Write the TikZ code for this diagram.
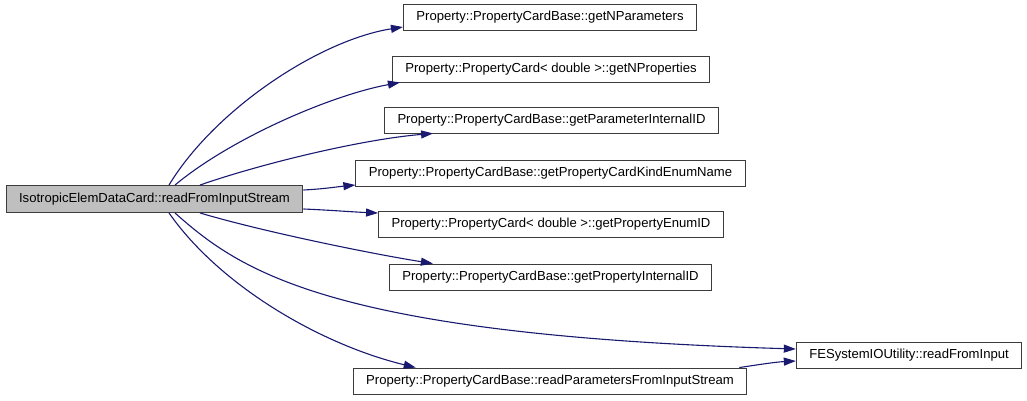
\documentclass[tikz,border=0pt]{standalone}
\usepackage{fontspec}
\setmainfont{Liberation Sans}
\usetikzlibrary{arrows.meta}
\definecolor{dgedgeblue}{RGB}{25,25,112}
\definecolor{dgmaingray}{RGB}{191,191,191}
\definecolor{dgborder}{RGB}{60,60,60}

\begin{document}
\begin{tikzpicture}[
        x=1pt, y=-1pt,
        callbox/.style={
            draw=dgborder,
            fill=white,
            line width=0.9pt,
            inner xsep=13pt,
            inner ysep=0pt,
            minimum height=26pt,
            font=\fontsize{13.1}{15}\selectfont
        },
        mainbox/.style={callbox, fill=dgmaingray, minimum height=27pt},
        calledge/.style={
            draw=dgedgeblue,
            line width=1.1pt,
            -{Triangle[length=12pt,width=8pt]}
        }
    ]
    \useasboundingbox (0,0) rectangle (1027,401);

    % caller
    \node[mainbox] (main) at (154.5,199) {IsotropicElemDataCard::readFromInputStream};

    % callees
    \node[callbox] (npar)  at (550,17)    {Property::PropertyCardBase::getNParameters};
    \node[callbox] (nprop) at (551,69)    {Property::PropertyCard< double >::getNProperties};
    \node[callbox] (parid) at (551.5,120) {Property::PropertyCardBase::getParameterInternalID};
    \node[callbox] (kind)  at (550.5,173) {Property::PropertyCardBase::getPropertyCardKindEnumName};
    \node[callbox] (enumid) at (551,224.5) {Property::PropertyCard< double >::getPropertyEnumID};
    \node[callbox] (propid) at (550.5,277) {Property::PropertyCardBase::getPropertyInternalID};
    \node[callbox] (rdpar) at (550,381)   {Property::PropertyCardBase::readParametersFromInputStream};
    \node[callbox] (fesys) at (909,355.5) {FESystemIOUtility::readFromInput};

    % calls
    \draw[calledge] ([xshift=14.5pt]main.north) .. controls +(46,-76) and +(-83,13) .. ([yshift=-10pt]npar.west);
    \draw[calledge] ([xshift=20.5pt]main.north) .. controls +(55,-46) and +(-70,13) .. ([xshift=8pt]nprop.south west);
    \draw[calledge] ([xshift=45.5pt]main.north) .. controls +(60,-21) and +(-72,6) .. ([xshift=49pt]parid.south west);
    \draw[calledge] ([yshift=9pt]main.east) .. controls +(20,-1) and +(-20,2) .. ([yshift=-12pt]kind.west);
    \draw[calledge] ([yshift=-10pt]main.east) .. controls +(25,1) and +(-25,-1) .. ([yshift=11.5pt]enumid.west);
    \draw[calledge] ([xshift=45.5pt]main.south) .. controls +(60,18) and +(-63,-10) .. ([xshift=44pt]propid.north west);
    \draw[calledge] ([xshift=14.5pt]main.south) .. controls +(51,73) and +(-95,-23) .. ([xshift=63pt]rdpar.north west);
    \draw[calledge] ([xshift=20.5pt]main.south) .. controls +(65,58) and +(-466,-14) .. ([yshift=6.5pt]fesys.west);
    \draw[calledge] ([xshift=-8pt]rdpar.north east) .. controls +(20,-3) and +(-20,1) .. ([yshift=-5.5pt]fesys.west);
\end{tikzpicture}
\end{document}
